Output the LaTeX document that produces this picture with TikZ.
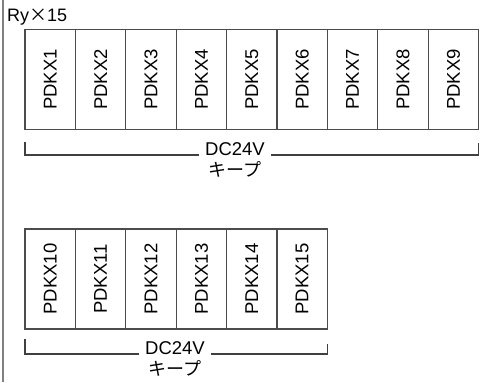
\documentclass[tikz,border=0pt]{standalone}
\usepackage{fontspec}
\setmainfont{Liberation Sans}
\newfontfamily\jpfont{Noto Sans CJK JP}
\usepackage{graphicx}
\usetikzlibrary{positioning}

\begin{document}
\begin{tikzpicture}[x=1pt,y=-1pt,
    relay/.style={draw=black!70, line width=1.2pt, minimum width=50.4pt, minimum height=100pt,
      inner sep=0pt, outer sep=0pt, font=\fontsize{18.5}{18.5}\selectfont},
    volt/.style={inner xsep=6pt, inner ysep=0pt, font=\fontsize{18.5}{18.5}\selectfont},
    kana/.style={inner sep=0pt, font=\jpfont\fontsize{18}{18}\selectfont},
    bracket/.style={draw=black!75, line width=1.3pt}]
    \useasboundingbox (0,0) rectangle (494,382);
    \draw[black!50, line width=1.5pt] (3,0) -- (3,382);
    \node[anchor=base west, inner sep=0pt, font=\fontsize{18}{18}\selectfont] (title) at (7,22)
        {Ry{\jpfont ×}15};

    % upper row
    \node[relay, anchor=north west] (r1) at (25,29.5) {\rotatebox{90}{PDKX1}};
    \foreach \i [remember=\i as \j (initially 1)] in {2,...,9}
        \node[relay, right=0pt of r\j] (r\i) {\rotatebox{90}{PDKX\i}};
    \node[volt, anchor=base] (v1) at (235,155) {DC24V};
    \node[kana, below=6pt of v1] (k1) {キープ};
    \coordinate (l1) at ([yshift=-12.5pt]r1.south west);
    \coordinate (e1) at ([yshift=-13.5pt]r9.south east);
    \draw[bracket] (l1) |- (v1.base west);
    \draw[bracket] (e1) |- (v1.base east);

    % lower row
    \node[relay, anchor=north west] (r10) at (25,229) {\rotatebox{90}{PDKX10}};
    \foreach \i [remember=\i as \j (initially 10)] in {11,...,15}
        \node[relay, right=0pt of r\j] (r\i) {\rotatebox{90}{PDKX\i}};
    \node[volt, anchor=base] (v2) at (175,354) {DC24V};
    \node[kana, below=6pt of v2] (k2) {キープ};
    \coordinate (l2) at ([yshift=-10pt]r10.south west);
    \coordinate (e2) at ([yshift=-15pt]r15.south east);
    \draw[bracket] (l2) |- (v2.base west);
    \draw[bracket] (e2) |- (v2.base east);
\end{tikzpicture}
\end{document}
